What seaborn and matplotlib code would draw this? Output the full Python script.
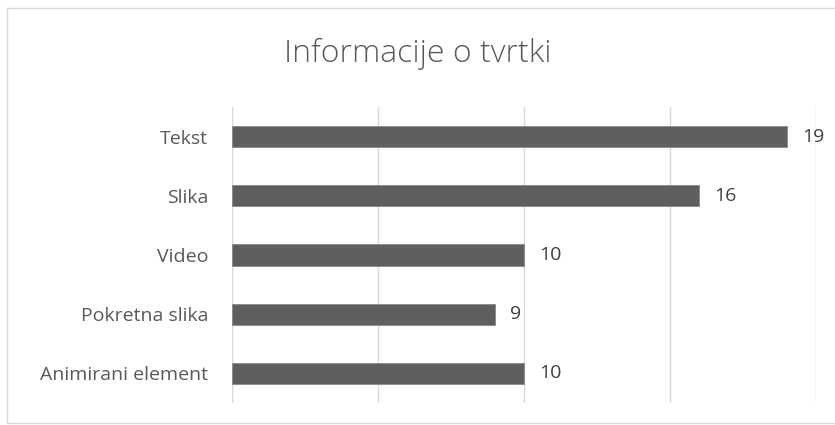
import pandas as pd
import seaborn as sns
import matplotlib.pyplot as plt
from matplotlib.patches import Rectangle

categories = ["Tekst", "Slika", "Video", "Pokretna slika", "Animirani element"]
counts = [19, 16, 10, 9, 10]

df = pd.DataFrame({"kategorija": categories, "broj": counts})

sns.set_style("white")
plt.rcParams["font.family"] = ["Open Sans", "DejaVu Sans"]

fig = plt.figure(figsize=(8.35, 4.25), dpi=100)
ax = fig.add_axes([0.2778, 0.0518, 0.6994, 0.6964])

sns.barplot(data=df, x="broj", y="kategorija", color="#5f5f5f", width=0.36,
            saturation=1, edgecolor="#8a8a8a", linewidth=0.6, ax=ax)

ax.set_xlim(0, 20)
ax.set_xticks([0, 5, 10, 15, 20])
ax.set_xticklabels([])
ax.grid(axis="x", color="#d9d9d9", linewidth=1)
ax.set_axisbelow(True)
ax.tick_params(axis="both", length=0)
ax.tick_params(axis="y", labelsize=14, labelcolor="#595959", pad=17)
ax.set_xlabel("")
ax.set_ylabel("")
for s in ax.spines.values():
    s.set_visible(False)

for cont in ax.containers:
    ax.bar_label(cont, padding=11, fontsize=14, color="#404040")

fig.text(0.5, 0.874, "Informacije o tvrtki", ha="center", va="center",
         fontsize=23, color="#595959", fontweight="light")

fig.patches.append(Rectangle((7 / 835, 0.004), 0.995, 0.977, transform=fig.transFigure,
                             fill=False, edgecolor="#d9d9d9", linewidth=1))

fig.savefig("out.png", dpi=100)
